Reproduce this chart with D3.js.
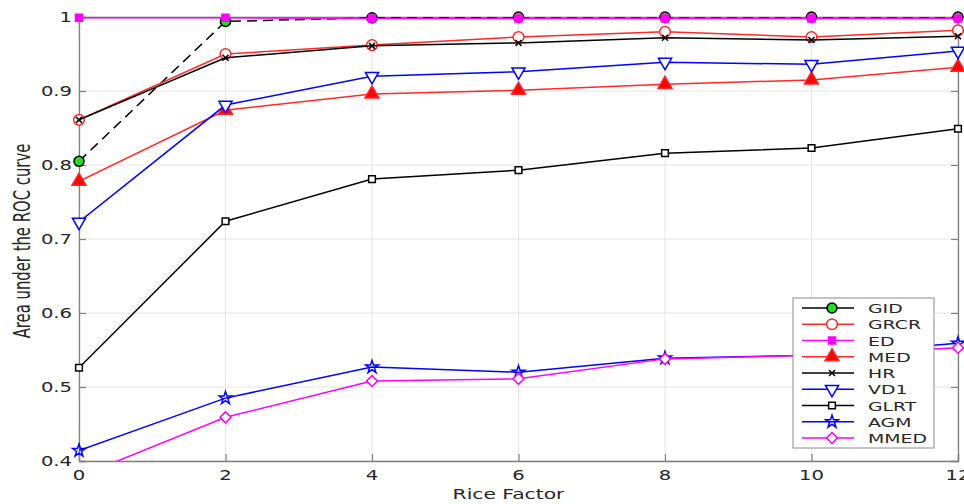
<!DOCTYPE html>
<html>
<head>
<meta charset="utf-8">
<script src="https://cdn.jsdelivr.net/npm/d3@7"></script>
<style>
  body { margin: 0; background: #fff; }
  text { font-family: "DejaVu Sans", sans-serif; fill: #262626; }
</style>
</head>
<body>
<script>
// data
var riceFactor = [0, 2, 4, 6, 8, 10, 12];
var xTicks = [0, 2, 4, 6, 8, 10, 12];
var yTicks = [0.4, 0.5, 0.6, 0.7, 0.8, 0.9, 1];
var yTickLabels = ["0.4", "0.5", "0.6", "0.7", "0.8", "0.9", "1"];

var gid  = [0.805, 0.994, 0.999, 1.0, 1.0, 1.0, 1.0];
var grcr = [0.861, 0.950, 0.962, 0.973, 0.980, 0.973, 0.982];
var ed   = [0.999, 0.999, 0.998, 0.998, 0.998, 0.998, 0.998];
var med  = [0.778, 0.874, 0.896, 0.901, 0.909, 0.915, 0.932];
var hr   = [0.861, 0.945, 0.961, 0.965, 0.972, 0.969, 0.974];
var vd1  = [0.723, 0.881, 0.920, 0.926, 0.939, 0.936, 0.954];
var glrt = [0.526, 0.724, 0.781, 0.793, 0.816, 0.823, 0.849];
var agm  = [0.414, 0.485, 0.527, 0.520, 0.539, 0.543, 0.559];
var mmed = [0.379, 0.459, 0.508, 0.511, 0.538, 0.543, 0.553];

var seriesNames = ["GID", "GRCR", "ED", "MED", "HR", "VD1", "GLRT", "AGM", "MMED"];
var seriesValues = [gid, grcr, ed, med, hr, vd1, glrt, agm, mmed];

// styles, one per series
var styles = [
  {color: "#000", dash: "10,6", sym: d3.symbolCircle, size: 80, fill: "#22dd22", rot: 0},
  {color: "#ff2a2a", dash: null, sym: d3.symbolCircle, size: 90, fill: "#fff", rot: 0},
  {color: "#ff00ff", dash: null, sym: d3.symbolSquare, size: 50, fill: "#ff00ff", rot: 0},
  {color: "#ff2a2a", dash: null, sym: d3.symbolTriangle, size: 85, fill: "#ff0000", rot: 0},
  {color: "#000", dash: null, sym: d3.symbolTimes, size: 25, fill: "none", rot: 0},
  {color: "#0000ff", dash: null, sym: d3.symbolTriangle, size: 75, fill: "#fff", rot: 180},
  {color: "#000", dash: null, sym: d3.symbolSquare, size: 45, fill: "#fff", rot: 0},
  {color: "#0000ff", dash: null, sym: d3.symbolStar, size: 50, fill: "none", rot: 0},
  {color: "#ff00ff", dash: null, sym: d3.symbolSquare, size: 60, fill: "#fff", rot: 45}
];

var svgWidth = 964;
var svgHeight = 504;
var margin = {top: 17, right: 6, bottom: 43, left: 79};
var chartWidth = svgWidth - margin.left - margin.right;
var chartHeight = svgHeight - margin.top - margin.bottom;
var stretch = 1.45; // text in the picture is drawn wide

var svg = d3.select("body").append("svg")
    .attr("width", svgWidth)
    .attr("height", svgHeight);

var chartGroup = svg.append("g")
    .attr("transform", `translate(${margin.left}, ${margin.top})`);

var xScale = d3.scaleLinear().domain([0, 12]).range([0, chartWidth]);
var yScale = d3.scaleLinear().domain([0.4, 1]).range([chartHeight, 0]);

svg.append("defs").append("clipPath").attr("id", "plotClip")
  .append("rect").attr("width", chartWidth).attr("height", chartHeight);

// grid
chartGroup.selectAll(".gx").data(xTicks).enter().append("line")
    .attr("x1", d => xScale(d)).attr("x2", d => xScale(d))
    .attr("y1", 0).attr("y2", chartHeight)
    .attr("stroke", "#e4e4e4").attr("stroke-width", 1);
chartGroup.selectAll(".gy").data(yTicks).enter().append("line")
    .attr("y1", d => yScale(d)).attr("y2", d => yScale(d))
    .attr("x1", 0).attr("x2", chartWidth)
    .attr("stroke", "#e4e4e4").attr("stroke-width", 1);

// axes box + inward ticks
var bottomAxis = d3.axisBottom(xScale).tickValues(xTicks).tickSize(-7).tickFormat("");
var topAxis = d3.axisTop(xScale).tickValues(xTicks).tickSize(-7).tickFormat("");
var leftAxis = d3.axisLeft(yScale).tickValues(yTicks).tickSize(-7).tickFormat("");
var rightAxis = d3.axisRight(yScale).tickValues(yTicks).tickSize(-7).tickFormat("");

[[bottomAxis, `translate(0, ${chartHeight})`], [topAxis, "translate(0,0)"],
 [leftAxis, "translate(0,0)"], [rightAxis, `translate(${chartWidth},0)`]].forEach(function (a) {
  var g = chartGroup.append("g").attr("transform", a[1]).call(a[0]);
  g.select(".domain").attr("stroke", "#808080").attr("stroke-width", 1.3);
  g.selectAll(".tick line").attr("stroke", "#808080").attr("stroke-width", 1.2);
});

// tick labels
chartGroup.selectAll(".xl").data(xTicks).enter().append("text")
    .attr("transform", d => `translate(${xScale(d)}, ${chartHeight + 19}) scale(${stretch},1)`)
    .attr("text-anchor", "middle")
    .style("font-size", "13.5px")
    .text(d => d);
chartGroup.selectAll(".yl").data(yTicks).enter().append("text")
    .attr("transform", d => `translate(-7, ${yScale(d) + 5}) scale(${stretch},1)`)
    .attr("text-anchor", "end")
    .style("font-size", "13.5px")
    .text((d, i) => yTickLabels[i]);

// axis titles
svg.append("text")
    .attr("transform", `translate(${margin.left + chartWidth / 2 - 10}, 499) scale(${stretch},1)`)
    .attr("text-anchor", "middle")
    .style("font-size", "14px")
    .text("Rice Factor");
svg.append("text")
    .attr("transform", `translate(30, ${margin.top + chartHeight / 2 + 2}) scale(1.35,1) rotate(-90)`)
    .attr("text-anchor", "middle")
    .style("font-size", "16.5px")
    .style("font-family", "'DejaVu Sans Condensed', 'DejaVu Sans', sans-serif")
    .text("Area under the ROC curve");

// lines and markers
var line = d3.line()
    .x((d, i) => xScale(riceFactor[i]))
    .y(d => yScale(d));

var plot = chartGroup.append("g");

seriesValues.forEach(function (vals, k) {
  var s = styles[k];
  plot.append("path")
      .datum(vals)
      .attr("clip-path", "url(#plotClip)")
      .attr("d", line)
      .attr("fill", "none")
      .attr("stroke", s.color)
      .attr("stroke-width", 1.5)
      .attr("stroke-dasharray", s.dash);
  plot.selectAll(null)
      .data(vals.map((v, i) => [riceFactor[i], v]).filter(d => d[1] >= 0.4 && d[1] <= 1))
      .enter().append("path")
      .attr("transform", d => `translate(${xScale(d[0])}, ${yScale(d[1])}) rotate(${s.rot})`)
      .attr("d", d3.symbol().type(s.sym).size(s.size))
      .attr("fill", s.fill)
      .attr("stroke", k === 0 ? "#000" : s.color)
      .attr("stroke-width", 1.5);
});

// legend
var legend = svg.append("g").attr("transform", "translate(793, 298)");
legend.append("rect")
    .attr("width", 141).attr("height", 150)
    .attr("fill", "#fff").attr("stroke", "#8a8a8a").attr("stroke-width", 1);

seriesNames.forEach(function (name, k) {
  var s = styles[k];
  var ly = 10 + k * 16.25;
  var row = legend.append("g").attr("transform", `translate(0, ${ly})`);
  row.append("line")
      .attr("x1", 9).attr("x2", 61)
      .attr("stroke", s.color).attr("stroke-width", 1.5);
  row.append("path")
      .attr("transform", `translate(39, 0) rotate(${s.rot})`)
      .attr("d", d3.symbol().type(s.sym).size(s.size))
      .attr("fill", s.fill)
      .attr("stroke", k === 0 ? "#000" : s.color)
      .attr("stroke-width", 1.5);
  row.append("text")
      .attr("transform", `translate(75, 5) scale(${stretch},1)`)
      .style("font-size", "13px")
      .text(name);
});
</script>
</body>
</html>
